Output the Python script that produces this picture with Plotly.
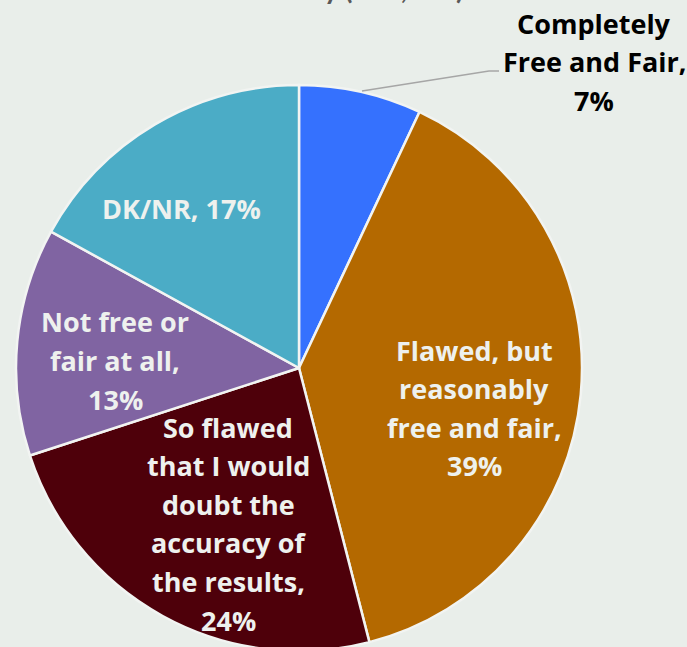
import plotly.graph_objects as go

# ---- data ----
categories = [
    "Completely Free and Fair",
    "Flawed, but reasonably free and fair",
    "So flawed that I would doubt the accuracy of the results",
    "Not free or fair at all",
    "DK/NR",
]
values = [7, 39, 24, 13, 17]
colors = ["#3571FE", "#B46900", "#4E000A", "#8064A2", "#4BACC6"]

# display line breaks for the labels (name part); percent appended from values
label_lines = [
    ["Completely", "Free and Fair,"],
    ["Flawed, but", "reasonably", "free and fair,"],
    ["So flawed", "that I would", "doubt the", "accuracy of", "the results,"],
    ["Not free or", "fair at all,"],
    ["DK/NR,"],
]

# ---- layout ----
W, H = 687, 660
BG = "#E9EEEA"

# pie pixel box (top-down pixel coords)
px_l, px_r, px_t, px_b = 16, 582, 85, 651

fig = go.Figure(go.Pie(
    labels=categories,
    values=values,
    sort=False,
    direction="clockwise",
    rotation=0,
    marker=dict(colors=colors, line=dict(color="#F2F4F2", width=2.5)),
    textinfo="none",
    hoverinfo="label+percent",
    domain=dict(x=[px_l / W, px_r / W], y=[1 - px_b / H, 1 - px_t / H]),
    showlegend=False,
))

# label placement: center x, first line y (px), text colour
label_pos = [
    (594, 23, "#000000"),
    (474, 350, "#EEF1EE"),
    (228, 427, "#EEF1EE"),
    (115, 322, "#EEF1EE"),
    (181, 208, "#EEF1EE"),
]
LINE_H = 38.6
FONT = "'Open Sans', Lato, sans-serif"

annotations = []
for lines, v, (cx, y0, col) in zip(label_lines, values, label_pos):
    full = list(lines)
    if len(full) == 1:
        full[0] = full[0] + f" {v}%"
    else:
        full.append(f"{v}%")
    for i, t in enumerate(full):
        yy = y0 + i * LINE_H
        annotations.append(dict(
            x=cx / W, y=1 - yy / H, xref="paper", yref="paper",
            xanchor="center", yanchor="middle", showarrow=False,
            text=t, font=dict(family=FONT, size=27, color=col, weight="bold"),
        ))

# clipped title fragment at the very top
annotations.append(dict(
    x=466 / W, y=1, xref="paper", yref="paper", xanchor="right", yanchor="bottom",
    yshift=-7, showarrow=False, text="y (n=1,000)",
    font=dict(family="Lato, sans-serif", size=28, color="#595959", weight="bold"),
))

shapes = [dict(
    type="path", xref="paper", yref="paper",
    path=f"M {362/W} {1-91/H} L {489/W} {1-71/H} L {499/W} {1-71/H}",
    line=dict(color="#A6A6A6", width=1.5),
)]

fig.update_layout(
    width=W, height=H,
    margin=dict(l=0, r=0, t=0, b=0),
    paper_bgcolor=BG, plot_bgcolor=BG,
    annotations=annotations, shapes=shapes,
)

fig.write_html(
    "out.html",
    config={"displayModeBar": False},
    post_script="document.body.style.margin='0';document.body.style.overflow='hidden';document.documentElement.style.overflow='hidden';",
)
